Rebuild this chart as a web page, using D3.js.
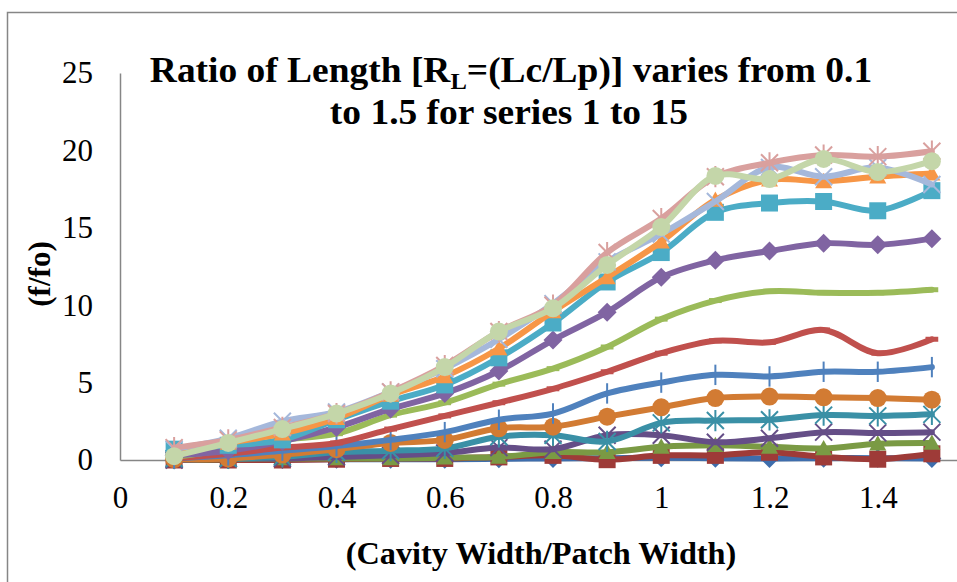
<!DOCTYPE html>
<html>
<head>
<meta charset="utf-8">
<script src="https://cdn.jsdelivr.net/npm/d3@7"></script>
<style>
  html, body { margin: 0; padding: 0; background: #fff; }
  svg { display: block; }
  svg text { font-family: "Liberation Serif", Tinos, "Times New Roman", "DejaVu Serif", serif; fill: #000; }
</style>
</head>
<body>
<svg id="chart" width="957" height="582"></svg>
<script>
// ---------------- data ----------------
const xValues = [0.1, 0.2, 0.3, 0.4, 0.5, 0.6, 0.7, 0.8, 0.9, 1.0, 1.1, 1.2, 1.3, 1.4, 1.5];
const xTicks = [0, 0.2, 0.4, 0.6, 0.8, 1, 1.2, 1.4];
const yTicks = [0, 5, 10, 15, 20, 25];
const seriesNames = ["Series1","Series2","Series3","Series4","Series5","Series6","Series7","Series8",
                     "Series9","Series10","Series11","Series12","Series13","Series14","Series15"];

const series1  = [0.0, 0.02, 0.03, 0.05, 0.05, 0.05, 0.08, 0.1, 0.12, 0.15, 0.12, 0.1, 0.12, 0.12, 0.1];
const series2  = [0.0, 0.0, 0.0, 0.05, 0.1, 0.1, 0.2, 0.3, 0.02, 0.3, 0.3, 0.5, 0.2, 0.05, 0.4];
const series3  = [0.0, 0.05, 0.1, 0.1, 0.1, 0.15, 0.2, 0.5, 0.5, 0.85, 0.95, 0.85, 0.75, 1.05, 1.1];
const series4  = [0.0, 0.1, 0.1, 0.2, 0.3, 0.45, 0.8, 0.7, 1.6, 1.6, 1.15, 1.4, 1.8, 1.75, 1.8];
const series5  = [0.1, 0.1, 0.2, 0.5, 0.6, 0.75, 1.5, 1.6, 1.2, 2.4, 2.55, 2.6, 2.9, 2.85, 2.95];
const series6  = [0.05, 0.1, 0.35, 0.7, 1.1, 1.3, 2.05, 2.15, 2.8, 3.4, 4.0, 4.1, 4.05, 4.0, 3.9];
const series7  = [0.1, 0.3, 0.6, 0.9, 1.3, 1.8, 2.6, 3.0, 4.3, 5.0, 5.5, 5.4, 5.7, 5.7, 6.0];
const series8  = [0.1, 0.4, 0.8, 1.1, 2.0, 2.85, 3.7, 4.6, 5.7, 6.9, 7.7, 7.6, 8.4, 6.9, 7.8];
const series9  = [0.2, 0.7, 1.3, 1.7, 2.9, 3.7, 4.9, 5.9, 7.3, 9.1, 10.3, 10.9, 10.8, 10.8, 11.0];
const series10 = [0.3, 0.6, 1.2, 2.1, 3.3, 4.3, 5.75, 7.75, 9.55, 11.8, 12.9, 13.5, 14.0, 13.9, 14.3];
const series11 = [0.7, 0.95, 1.3, 2.6, 3.8, 4.85, 6.6, 8.85, 11.5, 13.4, 16.0, 16.6, 16.7, 16.1, 17.4];
const series12 = [0.5, 1.1, 1.7, 2.7, 4.2, 5.4, 7.2, 9.6, 11.8, 14.1, 16.8, 18.1, 18.0, 18.3, 18.5];
const series13 = [0.7, 1.4, 2.5, 3.1, 4.4, 5.9, 7.8, 10.1, 12.8, 14.6, 16.7, 18.9, 18.3, 18.9, 17.8];
const series14 = [0.8, 1.3, 2.1, 3.0, 4.4, 6.1, 8.3, 10.0, 13.4, 15.6, 18.3, 19.2, 19.7, 19.6, 19.95];
const series15 = [0.25, 1.1, 2.0, 3.0, 4.3, 6.0, 8.3, 9.8, 12.6, 15.05, 18.35, 18.15, 19.45, 18.6, 19.3];

const allSeries = [series1, series2, series3, series4, series5, series6, series7, series8,
                   series9, series10, series11, series12, series13, series14, series15];

// ---------------- styles ----------------
const colors = ["#3E6DAC", "#9E3B38", "#7A9A44", "#654E87", "#3A90A6", "#D27B33",
                "#4F81BD", "#C0504D", "#9BBB59", "#8064A2", "#4BACC6", "#F79646",
                "#A5B8DB", "#D9A09E", "#C4D6A9"];
const markers = ["diamond", "square", "triangle", "x", "star", "circle", "plus", "dash",
                 "dash", "diamond", "square", "triangle", "x", "star", "circle"];
const FONT = '"Liberation Serif", Tinos, "Times New Roman", "DejaVu Serif", serif';

// ---------------- layout ----------------
const svg = d3.select("#chart");
const x = d3.scaleLinear().domain([0, 1.6]).range([120, 986]);
const y = d3.scaleLinear().domain([0, 25]).range([460, 73]);

// outer chart border
svg.append("rect")
  .attr("x", 7.5).attr("y", 12.5).attr("width", 1000).attr("height", 620)
  .attr("fill", "none").attr("stroke", "#868686").attr("stroke-width", 1.5);

// axes
const yAxis = d3.axisLeft(y).tickValues(yTicks).tickSize(0).tickPadding(27).tickFormat(d3.format("d"));
const xAxis = d3.axisBottom(x).tickValues(xTicks).tickSize(0).tickPadding(26).tickFormat(d => String(d));

const gy = svg.append("g").attr("transform", "translate(120,0)").call(yAxis);
const gx = svg.append("g").attr("transform", "translate(0,460)").call(xAxis);
[gx, gy].forEach(g => {
  g.attr("font-family", FONT).attr("font-size", 31);
  g.select(".domain").attr("stroke", "#868686").attr("stroke-width", 1.5);
  g.selectAll("text").attr("fill", "#000");
});

// marker path generator (shape in local coords)
function markerPath(type, r) {
  switch (type) {
    case "diamond": return `M0,${-r}L${r},0L0,${r}L${-r},0Z`;
    case "square": return `M${-r},${-r}H${r}V${r}H${-r}Z`;
    case "triangle": return `M0,${-r}L${r},${r*0.8}L${-r},${r*0.8}Z`;
    case "circle": return d3.symbol(d3.symbolCircle, Math.PI * r * r)();
    case "x": return `M${-r},${-r}L${r},${r}M${-r},${r}L${r},${-r}`;
    case "star": return `M${-r},${-r}L${r},${r}M${-r},${r}L${r},${-r}M0,${-r*1.25}V${r*1.25}`;
    case "plus": return `M0,${-r*1.2}V${r*1.2}`;
    case "dash": return `M${-r*0.75},-2.5H${r*0.75}V2.5H${-r*0.75}Z`;
  }
}
const strokeMarkers = new Set(["x", "star", "plus"]);

const line = d3.line()
  .x((d, i) => x(xValues[i]))
  .y(d => y(d))
  .curve(d3.curveCatmullRom.alpha(0.5));

allSeries.forEach((vals, si) => {
  const g = svg.append("g").attr("class", "series " + seriesNames[si]);
  g.append("path")
    .attr("d", line(vals))
    .attr("fill", "none")
    .attr("stroke", colors[si])
    .attr("stroke-width", 6)
    .attr("stroke-linejoin", "round")
    .attr("stroke-linecap", "round");
  const m = markers[si];
  const r = (m === "circle") ? 9 : (m === "diamond" ? 9.5 : 8.5);
  g.selectAll("path.mk").data(vals).join("path")
    .attr("class", "mk")
    .attr("transform", (d, i) => `translate(${x(xValues[i])},${y(d)})`)
    .attr("d", markerPath(m, r))
    .attr("fill", strokeMarkers.has(m) ? "none" : colors[si])
    .attr("stroke", colors[si])
    .attr("stroke-width", strokeMarkers.has(m) ? 2 : 0);
});

// title (slightly widened serif to match the reference's proportions)
const tg = svg.append("g").attr("transform", "translate(511,0) scale(1.07,1)");
const t1 = tg.append("text")
  .attr("text-anchor", "middle").attr("x", 0).attr("y", 82)
  .attr("font-family", FONT).attr("font-size", 35).attr("font-weight", "bold");
t1.append("tspan").text("Ratio of Length [R");
t1.append("tspan").text("L").attr("font-size", 23).attr("dy", 7);
t1.append("tspan").text("=(Lc/Lp)] varies from 0.1").attr("dy", -7);
tg.append("text")
  .attr("text-anchor", "middle").attr("x", -2).attr("y", 124)
  .attr("font-family", FONT).attr("font-size", 35).attr("font-weight", "bold")
  .text("to 1.5 for series 1 to 15");

// axis titles
svg.append("text")
  .attr("x", 541).attr("y", 564).attr("text-anchor", "middle")
  .attr("font-family", FONT)
  .attr("font-size", 32.3).attr("font-weight", "bold")
  .text("(Cavity Width/Patch Width)");

svg.append("text")
  .attr("transform", "translate(50,274) rotate(-90)")
  .attr("text-anchor", "middle")
  .attr("font-family", FONT)
  .attr("font-size", 31).attr("font-weight", "bold")
  .text("(f/fo)");
</script>
</body>
</html>
